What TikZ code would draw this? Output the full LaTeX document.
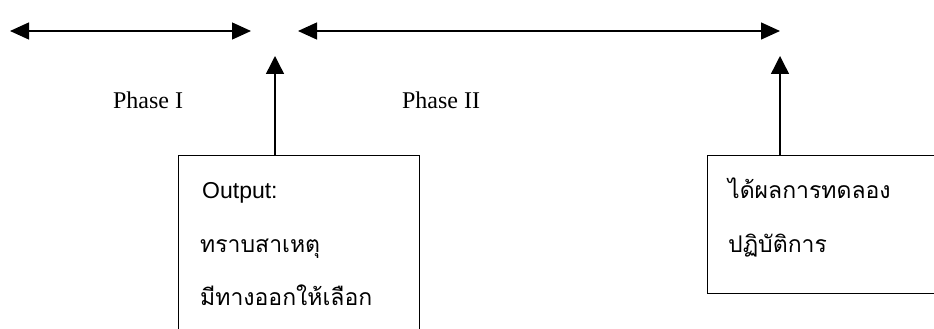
\documentclass[tikz,border=0pt]{standalone}
\usepackage{fontspec}
\setmainfont{Liberation Serif}
\newfontfamily\thaifont[Script=Thai]{Loma}
\newfontfamily\latinsans{Liberation Sans}
\usetikzlibrary{arrows.meta}
\begin{document}
\begin{tikzpicture}[x=1pt,y=-1pt,
  span/.style={line width=1.4pt,{Triangle[length=19pt,width=17pt]}-{Triangle[length=19pt,width=17pt]}},
  rise/.style={line width=1.4pt,-{Triangle[length=18pt,width=18pt]}},
  outbox/.style={draw,line width=1pt,rectangle,inner sep=0pt,anchor=north west},
  phase/.style={anchor=base,inner sep=0pt,font=\fontsize{24}{28}\selectfont},
  boxtext/.style={anchor=base west,inner sep=0pt,font=\thaifont\fontsize{23}{27}\selectfont}]
\useasboundingbox (0,0) rectangle (934,329);
% phase spans
\coordinate (p1a) at (10,31);
\coordinate (p1b) at (251,31);
\coordinate (p2a) at (298,31);
\coordinate (p2b) at (780,31);
\draw[span] (p1a) -- (p1b);
\draw[span] (p2a) -- (p2b);
\node[phase] (ph1) at (148,108) {Phase I};
\node[phase] (ph2) at (441,108) {Phase II};
% output boxes
\node[outbox,minimum width=241pt,minimum height=200pt] (b1) at (178,155) {};
\node[outbox,minimum width=230pt,minimum height=138pt] (b2) at (707,155) {};
\coordinate (t1) at (275,56);
\coordinate (t2) at (780,56);
\draw[rise] (b1.north -| t1) -- (t1);
\draw[rise] (b2.north -| t2) -- (t2);
% box texts
\node[boxtext,font=\latinsans\fontsize{23}{27}\selectfont] (o1) at (202,198) {Output:};
\node[boxtext] (o2) at (200,252) {ทราบสาเหตุ};
\node[boxtext] (o3) at (200,305) {มีทางออกให้เลือก};
\node[boxtext] (r1) at (728,198) {ได้ผลการทดลอง};
\node[boxtext] (r2) at (728,252) {ปฏิบัติการ};
\end{tikzpicture}
\end{document}
